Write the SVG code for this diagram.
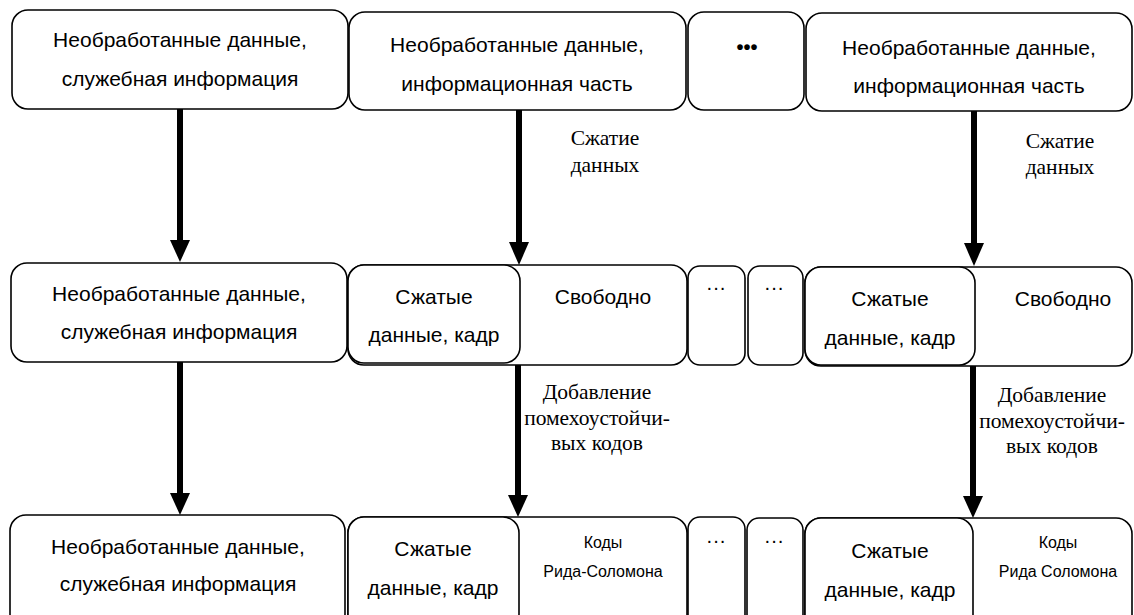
<svg xmlns="http://www.w3.org/2000/svg" width="1134" height="615" viewBox="0 0 1134 615">
<style>
.b{fill:#fff;stroke:#000;stroke-width:1.6}
.t{font-family:"Liberation Sans",Arial,sans-serif;font-size:21px;fill:#000;text-anchor:middle}
.s{font-family:"Liberation Sans",Arial,sans-serif;font-size:16px;fill:#000;text-anchor:middle}
.d{font-family:"Liberation Sans",Arial,sans-serif;font-size:20px;fill:#000;text-anchor:middle}
.l{font-family:"Liberation Serif","Times New Roman",serif;font-size:21.5px;fill:#000;text-anchor:middle}
.sh{stroke:#000;stroke-width:6}
</style>
<rect width="1134" height="615" fill="#fff"/>
<g id="n1"><rect class="b" x="12" y="10" width="336" height="99" rx="16"/><text class="t" x="180" y="47">Необработанные данные,</text><text class="t" x="180" y="86">служебная информация</text></g>
<g id="n2"><rect class="b" x="349" y="12" width="337" height="98" rx="16"/><text class="t" x="517" y="52">Необработанные данные,</text><text class="t" x="517" y="91">информационная часть</text></g>
<g id="n3"><rect class="b" x="688" y="12" width="116" height="98" rx="16"/><text class="d" x="747" y="54" font-weight="bold">•••</text></g>
<g id="n4"><rect class="b" x="806" y="13" width="326" height="98" rx="16"/><text class="t" x="969" y="55">Необработанные данные,</text><text class="t" x="969" y="93">информационная часть</text></g>

<g id="n5"><rect class="b" x="11" y="263" width="336" height="99" rx="16"/><text class="t" x="179" y="301">Необработанные данные,</text><text class="t" x="179" y="339">служебная информация</text></g>
<g id="n6"><rect class="b" x="348" y="265" width="339" height="100" rx="16"/><rect class="b" x="348" y="265" width="172" height="98" rx="16"/><text class="t" x="434" y="304">Сжатые</text><text class="t" x="434" y="342">данные, кадр</text><text class="t" x="603" y="304">Свободно</text></g>
<g id="n7"><rect class="b" x="688" y="266" width="57" height="99" rx="12"/><text class="d" x="716" y="294">···</text></g>
<g id="n8"><rect class="b" x="748" y="266" width="55" height="99" rx="12"/><text class="d" x="774" y="294">···</text></g>
<g id="n9"><rect class="b" x="805" y="267" width="327" height="99" rx="16"/><rect class="b" x="805" y="267" width="170" height="98" rx="16"/><text class="t" x="890" y="306">Сжатые</text><text class="t" x="890" y="345">данные, кадр</text><text class="t" x="1063" y="306">Свободно</text></g>

<g id="n10"><rect class="b" x="10" y="515" width="335" height="115" rx="16"/><text class="t" x="178" y="554">Необработанные данные,</text><text class="t" x="178" y="591">служебная информация</text></g>
<g id="n11"><rect class="b" x="348" y="517" width="339" height="115" rx="16"/><rect class="b" x="348" y="517" width="171" height="113" rx="16"/><text class="t" x="433" y="556">Сжатые</text><text class="t" x="433" y="595">данные, кадр</text><text class="s" x="603" y="548">Коды</text><text class="s" x="603" y="577">Рида-Соломона</text></g>
<g id="n12"><rect class="b" x="688" y="517" width="57" height="115" rx="12"/><text class="d" x="716" y="547">···</text></g>
<g id="n13"><rect class="b" x="747" y="518" width="56" height="115" rx="12"/><text class="d" x="774" y="547">···</text></g>
<g id="n14"><rect class="b" x="805" y="518" width="327" height="115" rx="16"/><rect class="b" x="805" y="518" width="168" height="113" rx="16"/><text class="t" x="890" y="558">Сжатые</text><text class="t" x="890" y="597">данные, кадр</text><text class="s" x="1058" y="548">Коды</text><text class="s" x="1058" y="577">Рида Соломона</text></g>

<g id="connectors">
<line class="sh" x1="180" y1="109" x2="180" y2="242"/><polygon points="170,240 190,240 180,262"/>
<line class="sh" x1="519" y1="110" x2="519" y2="244"/><polygon points="509,242 529,242 519,265"/>
<line class="sh" x1="974" y1="111" x2="974" y2="245"/><polygon points="964,243 984,243 974,266"/>
<line class="sh" x1="180" y1="362" x2="180" y2="495"/><polygon points="170,493 190,493 180,515"/>
<line class="sh" x1="518" y1="365" x2="518" y2="497"/><polygon points="508,495 528,495 518,517"/>
<line class="sh" x1="973" y1="366" x2="973" y2="498"/><polygon points="963,496 983,496 973,518"/>
</g>
<g id="labels">
<text class="l" x="605" y="145">Сжатие</text><text class="l" x="605" y="172">данных</text>
<text class="l" x="1060" y="148">Сжатие</text><text class="l" x="1060" y="174">данных</text>
<text class="l" x="597" y="399">Добавление</text><text class="l" x="597" y="425">помехоустойчи-</text><text class="l" x="597" y="450">вых кодов</text>
<text class="l" x="1052" y="402">Добавление</text><text class="l" x="1052" y="428">помехоустойчи-</text><text class="l" x="1052" y="453">вых кодов</text>
</g>
</svg>
